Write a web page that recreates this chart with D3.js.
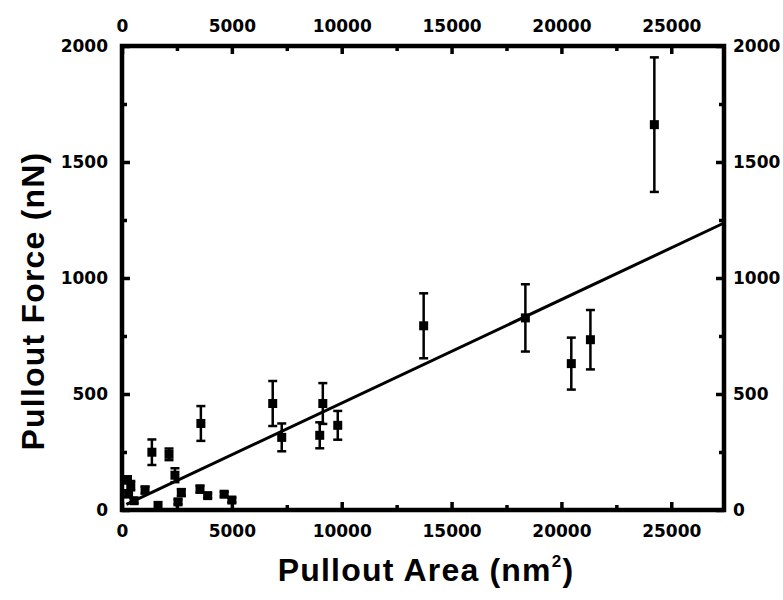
<!DOCTYPE html>
<html>
<head>
<meta charset="utf-8">
<script src="https://cdn.jsdelivr.net/npm/d3@7"></script>
<style>
  html, body { margin: 0; padding: 0; background: #fff; }
  svg { display: block; }
  .tick text { font-family: "DejaVu Sans", sans-serif; font-weight: bold; font-size: 17px; fill: #000; }
</style>
</head>
<body>
<svg id="chart" width="783" height="600"></svg>
<script>
// ---- data ----
const areaValues  = [250, 400, 300, 550, 1050, 1360, 1640, 2140, 2410, 2550, 2700, 3550, 3590, 3900, 4650, 5000,
                     6860, 7270, 9000, 9140, 9820, 13730, 18360, 20450, 21320, 24230];
const forceValues = [130, 105, 70, 40, 86, 249, 20, 240, 150, 35, 75, 90, 373, 62, 68, 43,
                     459, 313, 322, 459, 365, 794, 828, 631, 734, 1661];
const forceErrors = [15, 20, 15, 10, 15, 55, 0, 25, 30, 10, 15, 15, 75, 10, 10, 10,
                     97, 60, 56, 88, 62, 140, 145, 112, 128, 290];
const fitArea  = [200, 27400];
const fitForce = [24, 1237];
const xMajorTicks = [0, 5000, 10000, 15000, 20000, 25000];
const xMinorTicks = [2500, 7500, 12500, 17500, 22500, 27500];
const yMajorTicks = [0, 500, 1000, 1500, 2000];
const yMinorTicks = [250, 750, 1250, 1750];
const xTitle = "Pullout Area (nm";
const yTitle = "Pullout Force (nN)";

// ---- layout ----
const svg = d3.select("#chart");
const L = 122, R = 724, T = 46, B = 510;
const x = d3.scaleLinear().domain([0, 27400]).range([L, R]);
const y = d3.scaleLinear().domain([0, 2000]).range([B, T]);

function styleAxis(g) {
  g.select(".domain").remove();
  g.selectAll(".tick line").attr("stroke", "#000").attr("stroke-width", 3.5);
}

// major axes with labels
svg.append("g").attr("transform", `translate(0,${B})`)
  .call(d3.axisBottom(x).tickValues(xMajorTicks).tickSize(-8).tickPadding(15).tickFormat(d3.format("d")))
  .call(styleAxis);
svg.append("g").attr("transform", `translate(0,${T})`)
  .call(d3.axisTop(x).tickValues(xMajorTicks).tickSize(-8).tickPadding(14).tickFormat(d3.format("d")))
  .call(styleAxis);
svg.append("g").attr("transform", `translate(${L},0)`)
  .call(d3.axisLeft(y).tickValues(yMajorTicks).tickSize(-8).tickPadding(14).tickFormat(d3.format("d")))
  .call(styleAxis);
svg.append("g").attr("transform", `translate(${R},0)`)
  .call(d3.axisRight(y).tickValues(yMajorTicks).tickSize(-8).tickPadding(9).tickFormat(d3.format("d")))
  .call(styleAxis);

// minor ticks
const minor = (axis) => axis.tickSize(-5).tickFormat("");
svg.append("g").attr("transform", `translate(0,${B})`).call(minor(d3.axisBottom(x).tickValues(xMinorTicks.filter(v => v < 27400)))).call(styleAxis);
svg.append("g").attr("transform", `translate(0,${T})`).call(minor(d3.axisTop(x).tickValues(xMinorTicks.filter(v => v < 27400)))).call(styleAxis);
svg.append("g").attr("transform", `translate(${L},0)`).call(minor(d3.axisLeft(y).tickValues(yMinorTicks))).call(styleAxis);
svg.append("g").attr("transform", `translate(${R},0)`).call(minor(d3.axisRight(y).tickValues(yMinorTicks))).call(styleAxis);

// frame
svg.append("rect").attr("x", L).attr("y", T).attr("width", R - L).attr("height", B - T)
  .attr("fill", "none").attr("stroke", "#000").attr("stroke-width", 4.5);

// fit line
const fitData = fitArea.map((a, i) => [a, fitForce[i]]);
svg.append("path").datum(fitData)
  .attr("d", d3.line().x(d => x(d[0])).y(d => y(d[1])))
  .attr("fill", "none").attr("stroke", "#000").attr("stroke-width", 3);

// error bars and markers
const pts = areaValues.map((a, i) => ({ a, f: forceValues[i], e: forceErrors[i] }));
const eb = svg.append("g").attr("stroke", "#000");
pts.filter(d => d.e > 0).forEach(d => {
  const cx = x(d.a);
  eb.append("line").attr("x1", cx).attr("x2", cx).attr("y1", y(d.f - d.e)).attr("y2", y(d.f + d.e)).attr("stroke-width", 2.5);
  [d.f - d.e, d.f + d.e].forEach(v => {
    eb.append("line").attr("x1", cx - 4.5).attr("x2", cx + 4.5).attr("y1", y(v)).attr("y2", y(v)).attr("stroke-width", 2.5);
  });
});
svg.append("g").selectAll("rect").data(pts).join("rect")
  .attr("x", d => x(d.a) - 4.5).attr("y", d => y(d.f) - 4.5)
  .attr("width", 9).attr("height", 9).attr("fill", "#000");

// titles
const xt = svg.append("text").attr("x", 426).attr("y", 581).attr("text-anchor", "middle")
  .attr("font-family", "Liberation Sans, Arial, sans-serif").attr("font-weight", "bold").attr("font-size", 32)
  .attr("letter-spacing", 1.2);
xt.append("tspan").text(xTitle);
xt.append("tspan").attr("dy", -14).attr("font-size", 17).text("2");
xt.append("tspan").attr("dy", 14).text(")");

svg.append("text").attr("transform", "translate(44,301) rotate(-90)").attr("text-anchor", "middle")
  .attr("font-family", "Liberation Sans, Arial, sans-serif").attr("font-weight", "bold").attr("font-size", 32)
  .attr("letter-spacing", 1.2)
  .text(yTitle);
</script>
</body>
</html>
